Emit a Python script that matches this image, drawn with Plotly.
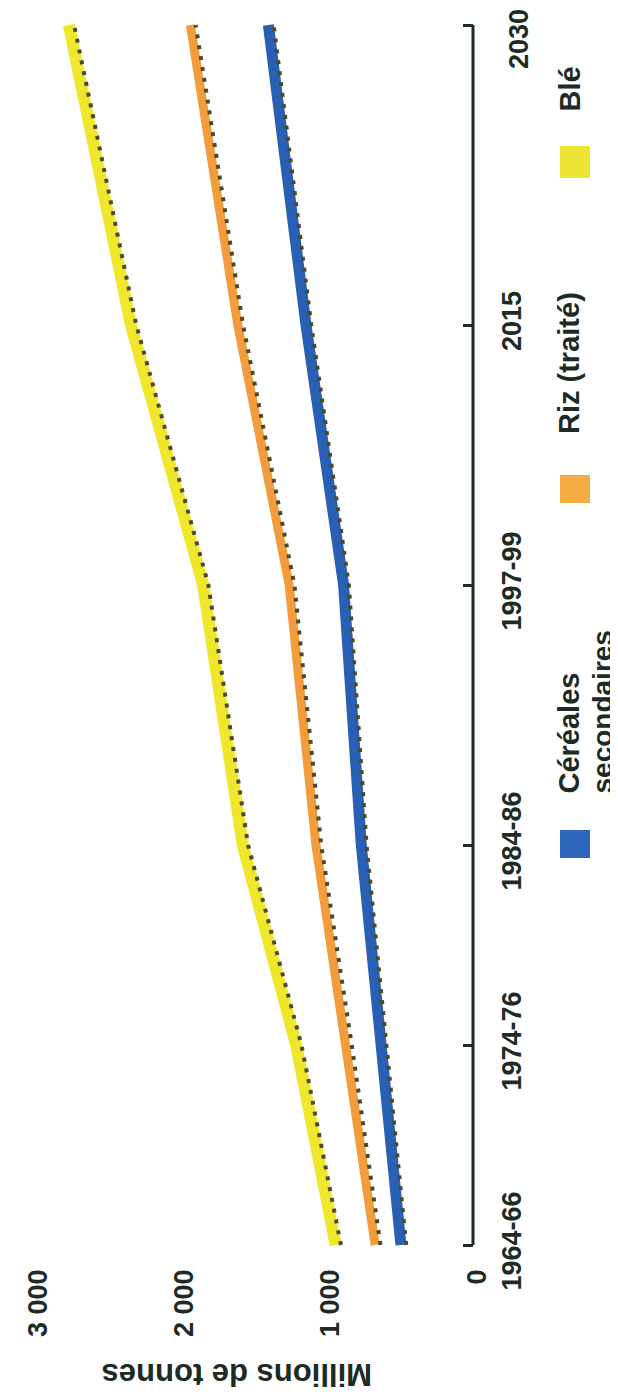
import plotly.graph_objects as go

# ---- data ----
periods = ["1964-66", "1974-76", "1984-86", "1997-99", "2015", "2030"]
period_pos = [1965, 1975, 1985, 1998, 2011, 2026]   # position of each period along the drawn time axis
cereales_sec = [520, 655, 791, 912, 1169, 1426]      # Céréales secondaires (Mt)
riz_cumul = [696, 892, 1101, 1284, 1635, 1959]      # + Riz (traité)
ble_cumul = [966, 1236, 1601, 1872, 2365, 2790]     # + Blé
value_ticks = [0, 1000, 2000, 3000]
value_ticktext = ["0", "1 000", "2 000", "3 000"]

W, H = 618, 1395
PL, PR, PT, PB = 20, 480, 3, 1250          # plot area in pixels
XR = [3069, -75]                            # value range (reversed)
YR = [1964.35, 2026.7]
SHIFT = 36                                  # shadow offset (value units)

DARK = "#1d2b25"
FONT = "Liberation Sans"


def px(x):
    return (x - PL) / (PR - PL)


def py(y):
    return (PB - y) / (PB - PT)


series = [
    ("Céréales secondaires", cereales_sec, "#2860b6", 11),
    ("Riz (traité)", riz_cumul, "#f39c3c", 9),
    ("Blé", ble_cumul, "#f0e62c", 12),
]

fig = go.Figure()
for name, vals, col, w in series:
    fig.add_trace(go.Scatter(x=vals, y=period_pos, mode="lines", xaxis="x2",
                             line=dict(color="#4a4a2c", width=4, dash="4px,7px"),
                             showlegend=False, hoverinfo="skip"))
for name, vals, col, w in series:
    fig.add_trace(go.Scatter(x=vals, y=period_pos, mode="lines", name=name,
                             line=dict(color=col, width=w), showlegend=False))

shapes = [dict(type="line", xref="paper", yref="y", x0=px(465), x1=px(465),
               y0=period_pos[0], y1=period_pos[-1], line=dict(color=DARK, width=3))]
annotations = []


def rot_text(text, x, y, size, yanchor="bottom"):
    annotations.append(dict(text="<b>" + text + "</b>", xref="paper", yref="paper",
                            x=px(x), y=py(y), xanchor="center", yanchor=yanchor,
                            textangle=-90, showarrow=False,
                            font=dict(family=FONT, size=size, color=DARK)))


legend_boxes = [("#2f66bd", 822, 850), ("#f4ad45", 467, 495), ("#ece535", 138, 170)]
for col, y0, y1 in legend_boxes:
    shapes.append(dict(type="rect", xref="paper", yref="paper",
                       x0=px(552), x1=px(582), y0=py(y1), y1=py(y0),
                       fillcolor=col, line=dict(width=0)))

rot_text("Céréales", 560, 788, 29)
rot_text("secondaires", 594, 788, 28)
rot_text("Riz (traité)", 561, 428, 29)
rot_text("Blé", 561, 106, 29)

# last period label drawn slightly below its tick (as in the reference)
rot_text(periods[-1], 511, 31, 27, yanchor="middle")

annotations.append(dict(text="<b>Millions de tonnes</b>", xref="paper", yref="paper",
                        x=px(229), y=py(1367), xanchor="center", yanchor="middle",
                        textangle=180, showarrow=False,
                        font=dict(family=FONT, size=31, color=DARK)))

ytext = ["<b>%s</b>" % p for p in periods[:-1]] + [""]
xtext = ["<b>%s</b>" % t for t in value_ticktext]

fig.update_layout(
    width=W, height=H,
    margin=dict(l=PL, r=W - PR, t=PT, b=H - PB),
    paper_bgcolor="white", plot_bgcolor="white",
    showlegend=False,
    xaxis=dict(range=XR, tickvals=value_ticks, ticktext=xtext, tickangle=-90,
               showgrid=False, zeroline=False, showline=False, ticks="",
               tickfont=dict(family=FONT, size=27, color=DARK), ticklabelstandoff=5),
    xaxis2=dict(range=[XR[0] + SHIFT, XR[1] + SHIFT], overlaying="x", visible=False),
    yaxis=dict(range=YR, tickvals=period_pos, ticktext=ytext, tickangle=-90,
               side="right", anchor="free", position=px(465),
               showgrid=False, zeroline=False, showline=False,
               ticks="inside", ticklen=10, tickwidth=3, tickcolor=DARK,
               tickfont=dict(family=FONT, size=27, color=DARK), ticklabelstandoff=20),
    shapes=shapes, annotations=annotations,
)

fig.write_html("out.html")
